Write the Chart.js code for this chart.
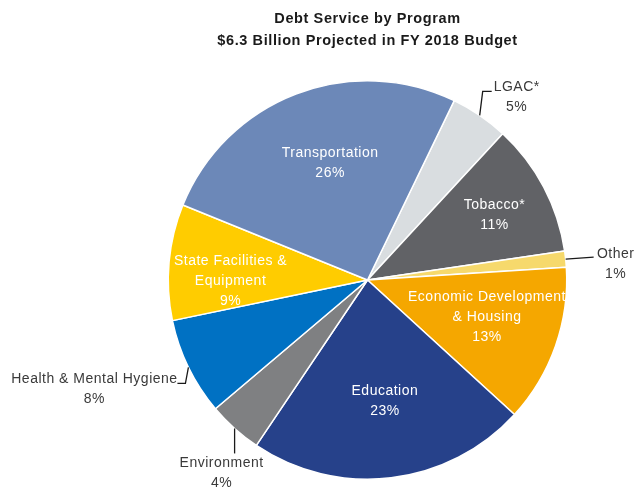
<!DOCTYPE html>
<html><head><meta charset="utf-8">
<script src="https://cdn.jsdelivr.net/npm/chart.js@4"></script>
<style>html,body{margin:0;padding:0;background:#fff}canvas{display:block}</style>
</head><body>
<canvas id="c" width="639" height="496"></canvas>
<script>
// ---- data ----
const categories = ['LGAC*', 'Tobacco*', 'Other', 'Economic Development & Housing', 'Education', 'Environment', 'Health & Mental Hygiene', 'State Facilities & Equipment', 'Transportation'];
const shares = [4.7, 10.8, 1.3, 12.8, 22.6, 4.4, 7.9, 9.4, 26.0];
const shareLabels = ['5%', '11%', '1%', '13%', '23%', '4%', '8%', '9%', '26%'];
const titleLines = ['Debt Service by Program', '$6.3 Billion Projected in FY 2018 Budget'];

// ---- styles / placement ----
const labelLines = [['LGAC*'], ['Tobacco*'], ['Other'], ['Economic Development', '& Housing'], ['Education'], ['Environment'], ['Health & Mental Hygiene'], ['State Facilities &', 'Equipment'], ['Transportation']];
const colors = ['#D9DDE0', '#616266', '#F6D96C', '#F5A700', '#26418A', '#7F8082', '#0071C3', '#FFCC00', '#6C88B8'];
const placement = [
  {out: true, path: [[3, -24], [12, -24]], text: [37, -28]},
  {out: false, f: 0.715, nudge: [1, 2]},
  {out: true, path: [[28, -2]], text: [50, -5]},
  {out: false, f: 0.625, nudge: [2, -4]},
  {out: false, f: 0.61, nudge: [3, 0]},
  {out: true, path: [[0, 25]], text: [-13, 35]},
  {out: true, path: [[-3, 16], [-11, 16]], text: [-94, 12]},
  {out: false, f: 0.69, nudge: [0, 14]},
  {out: false, f: 0.62, nudge: [7, -2]}
];

const labelPlugin = {
  id: 'sliceLabels',
  beforeDraw(chart) { chart.ctx.letterSpacing = '0.6px'; },
  afterDatasetsDraw(chart) {
    const ctx = chart.ctx;
    const meta = chart.getDatasetMeta(0);
    ctx.save();
    ctx.font = '14px "Liberation Sans", Arial, sans-serif';
    ctx.letterSpacing = '0.5px';
    ctx.textAlign = 'center';
    ctx.textBaseline = 'middle';
    const lh = 20;
    meta.data.forEach((arc, i) => {
      const p = placement[i];
      const mid = (arc.startAngle + arc.endAngle) / 2;
      const lines = labelLines[i].concat([shareLabels[i]]);
      if (!p.out) {
        const r = arc.outerRadius * p.f;
        const cx = arc.x + Math.cos(mid) * r + p.nudge[0];
        const cy = arc.y + Math.sin(mid) * r + p.nudge[1];
        ctx.fillStyle = '#ffffff';
        const y0 = cy - (lines.length - 1) * lh / 2;
        lines.forEach((t, k) => ctx.fillText(t, cx, y0 + k * lh));
      } else {
        const ex = arc.x + Math.cos(mid) * arc.outerRadius;
        const ey = arc.y + Math.sin(mid) * arc.outerRadius;
        ctx.strokeStyle = '#1a1a1a';
        ctx.lineWidth = 1.3;
        ctx.beginPath();
        ctx.moveTo(ex, ey);
        p.path.forEach(pt => ctx.lineTo(ex + pt[0], ey + pt[1]));
        ctx.stroke();
        ctx.fillStyle = '#3a3a3a';
        const tx = ex + p.text[0], ty = ey + p.text[1];
        lines.forEach((t, k) => ctx.fillText(t, tx, ty + k * lh));
      }
    });
    ctx.restore();
  }
};

new Chart(document.getElementById('c'), {
  type: 'pie',
  data: {
    labels: categories,
    datasets: [{
      data: shares,
      backgroundColor: colors,
      borderColor: '#ffffff',
      borderWidth: 1.5
    }]
  },
  options: {
    responsive: false,
    animation: false,
    rotation: 25.8,
    layout: {padding: {top: 8, left: 167.5, right: 71.5, bottom: 16}},
    plugins: {
      legend: {display: false},
      tooltip: {enabled: false},
      title: {
        display: true,
        text: titleLines,
        color: '#1a1a1a',
        font: {family: '"Liberation Sans", Arial, sans-serif', size: 14.5, weight: 'bold', lineHeight: 1.517},
        padding: {top: 0, bottom: 28}
      }
    }
  },
  plugins: [labelPlugin]
});
</script>
</body></html>
